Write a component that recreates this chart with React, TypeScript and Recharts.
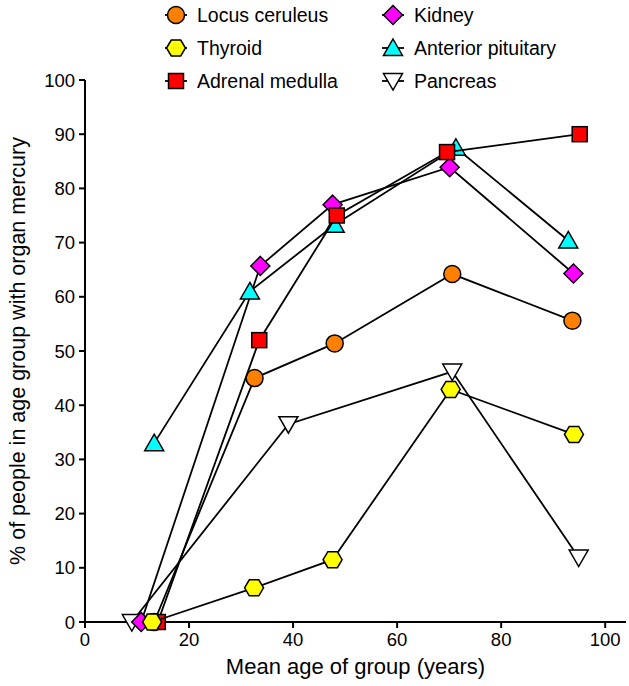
import React from "react";
import { Label, Scatter, ScatterChart, XAxis, YAxis } from "recharts";

// mean age of group (years) and % with organ mercury
const locusAge = [13.3, 32.6, 48.0, 70.6, 93.7];
const locusPct = [0, 45.0, 51.4, 64.2, 55.6];

const thyroidAge = [12.9, 32.5, 47.6, 70.3, 94.0];
const thyroidPct = [0, 6.3, 11.5, 42.9, 34.6];

const adrenalAge = [14.0, 33.5, 48.4, 69.6, 95.1];
const adrenalPct = [0, 52.0, 75.0, 86.7, 90.0];

const kidneyAge = [10.8, 33.7, 47.6, 70.1, 93.9];
const kidneyPct = [0, 65.7, 77.0, 83.9, 64.3];

const pituitaryAge = [13.3, 31.7, 48.0, 71.3, 92.9];
const pituitaryPct = [33.0, 61.0, 73.3, 87.5, 70.4];

const pancreasAge = [9.0, 39.1, 70.6, 94.9];
const pancreasPct = [0, 36.5, 46.2, 11.9];

const xTicks = [0, 20, 40, 60, 80, 100];
const yTicks = [0, 10, 20, 30, 40, 50, 60, 70, 80, 90, 100];

const toPoints = ( ages: number[], pcts: number[] ) =>
	ages.map( ( age, i ) => ( { age, pct: pcts[i] } ) );

type ShapeKind = "circle" | "hexagon" | "square" | "diamond" | "triangle" | "triangleDown";

function marker( kind: ShapeKind, cx: number, cy: number, fill: string ) {
	const common = { fill, stroke: "#000", strokeWidth: 1.5 };
	switch ( kind ) {
		case "circle":
			return <circle cx={cx} cy={cy} r={8.5} {...common} />;
		case "square":
			return <rect x={cx - 7.5} y={cy - 7.5} width={15} height={15} {...common} />;
		case "diamond":
			return <polygon points={`${cx},${cy - 9.5} ${cx + 9.5},${cy} ${cx},${cy + 9.5} ${cx - 9.5},${cy}`} {...common} />;
		case "hexagon":
			return <polygon points={`${cx - 9.5},${cy} ${cx - 4.75},${cy - 8} ${cx + 4.75},${cy - 8} ${cx + 9.5},${cy} ${cx + 4.75},${cy + 8} ${cx - 4.75},${cy + 8}`} {...common} />;
		case "triangle":
			return <polygon points={`${cx},${cy - 9} ${cx + 9.5},${cy + 7.5} ${cx - 9.5},${cy + 7.5}`} {...common} />;
		case "triangleDown":
			return <polygon points={`${cx - 9.5},${cy - 7.5} ${cx + 9.5},${cy - 7.5} ${cx},${cy + 9}`} {...common} />;
	}
}

const series: { name: string, fill: string, kind: ShapeKind, data: { age: number, pct: number }[] }[] = [
	{ name: "Pancreas", fill: "#ffffff", kind: "triangleDown", data: toPoints( pancreasAge, pancreasPct ) },
	{ name: "Kidney", fill: "#ff00ff", kind: "diamond", data: toPoints( kidneyAge, kidneyPct ) },
	{ name: "Anterior pituitary", fill: "#00ffff", kind: "triangle", data: toPoints( pituitaryAge, pituitaryPct ) },
	{ name: "Locus ceruleus", fill: "#ff8000", kind: "circle", data: toPoints( locusAge, locusPct ) },
	{ name: "Adrenal medulla", fill: "#ff0000", kind: "square", data: toPoints( adrenalAge, adrenalPct ) },
	{ name: "Thyroid", fill: "#ffff00", kind: "hexagon", data: toPoints( thyroidAge, thyroidPct ) },
];

// legend order as printed: two columns of three
const legendColumns = [
	[ "Locus ceruleus", "Thyroid", "Adrenal medulla" ],
	[ "Kidney", "Anterior pituitary", "Pancreas" ],
];

function LegendBlock() {
	const colX = [ 176, 393 ];
	const rowY = [ 15, 48, 81 ];
	return <svg width={629} height={100} style={{ position: "absolute", left: 0, top: 0 }}>
		{legendColumns.map( ( col, c ) => col.map( ( name, r ) => {
			const s = series.find( item => item.name === name )!;
			const x = colX[c];
			const y = rowY[r];
			return <g key={name}>
				<line x1={x - 11} x2={x + 11} y1={y} y2={y} stroke="#000" strokeWidth={1.8} />
				{marker( s.kind, x, y, s.fill )}
				<text x={x + 21} y={y} dominantBaseline="central" fontSize={19.5} fill="#000">{name}</text>
			</g>;
		} ) )}
	</svg>;
}

function App() {
	return <div style={{
		position: "absolute",
		left: 0,
		top: 0,
		width: 629,
		height: 686,
		background: "#fff",
		fontFamily: "'Liberation Sans', Arial, sans-serif",
	}}>
		<ScatterChart
			width={629}
			height={686}
			margin={{ top: 80, right: 3, bottom: 0, left: 0 }}
		>
			<XAxis
				type="number"
				dataKey="age"
				domain={[ 0, 104 ]}
				ticks={xTicks}
				height={64}
				tickSize={6}
				tickMargin={5}
				axisLine={{ stroke: "#000", strokeWidth: 2 }}
				tickLine={{ stroke: "#000", strokeWidth: 2 }}
				tick={{ fill: "#000", fontSize: 18.5 }}
			>
				<Label value="Mean age of group (years)" position="center" dy={12} fontSize={22} fill="#000" />
			</XAxis>
			<YAxis
				type="number"
				dataKey="pct"
				domain={[ 0, 100 ]}
				ticks={yTicks}
				width={85}
				tickSize={6}
				tickMargin={4}
				axisLine={{ stroke: "#000", strokeWidth: 2 }}
				tickLine={{ stroke: "#000", strokeWidth: 2 }}
				tick={{ fill: "#000", fontSize: 18.5 }}
			>
				<Label value="% of people in age group with organ mercury" position="center" angle={-90} dx={-25} fontSize={21.5} fill="#000" />
			</YAxis>
			{series.map( s =>
				<Scatter
					key={s.name}
					name={s.name}
					data={s.data}
					line={{ stroke: "#000", strokeWidth: 1.8 }}
					isAnimationActive={false}
					shape={( p: any ) => marker( s.kind, p.cx, p.cy, s.fill )}
				/>
			)}
		</ScatterChart>
		<LegendBlock />
	</div>;
}

export default App;
